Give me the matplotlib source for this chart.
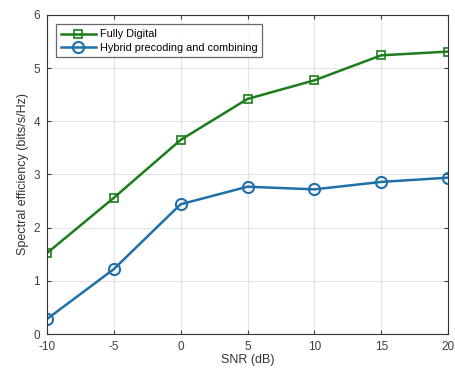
import matplotlib
matplotlib.use("Agg")
import matplotlib.pyplot as plt

snr = [-10, -5, 0, 5, 10, 15, 20]
fully_digital = [1.52, 2.56, 3.65, 4.42, 4.77, 5.24, 5.31]
hybrid = [0.28, 1.22, 2.44, 2.77, 2.72, 2.86, 2.94]
xticks = [-10, -5, 0, 5, 10, 15, 20]
yticks = [0, 1, 2, 3, 4, 5, 6]

plt.rcParams['font.family'] = ['Liberation Sans', 'DejaVu Sans']
plt.rcParams['axes.unicode_minus'] = False
fig = plt.figure(figsize=(4.55, 3.72), dpi=100)
ax = fig.add_axes([0.103, 0.102, 0.882, 0.858])

ax.plot(snr, fully_digital, color='#1b7d1b', lw=1.8, marker='s', ms=6,
        mfc='none', mec='#1b7d1b', mew=1.2, label='Fully Digital')
ax.plot(snr, hybrid, color='#1f6fa8', lw=1.8, marker='o', ms=8,
        mfc='none', mec='#1f6fa8', mew=1.5, label='Hybrid precoding and combining')

ax.set_xlim(-10, 20)
ax.set_ylim(0, 6)
ax.set_xticks(xticks)
ax.set_yticks(yticks)
ax.grid(True, color='#e3e3e3', lw=0.8)
ax.set_axisbelow(True)
ax.tick_params(direction='in', top=True, right=True, labelsize=8.5, colors='#404040', length=3)
ax.tick_params(axis='x', pad=5)
ax.tick_params(axis='y', pad=5)
for s in ax.spines.values():
    s.set_color('#333333')
    s.set_linewidth(0.8)
ax.set_xlabel('SNR (dB)', fontsize=9, color='#333333', labelpad=1)
ax.set_ylabel('Spectral efficiency (bits/s/Hz)', fontsize=9, color='#333333', labelpad=3)

leg = ax.legend(loc='upper left', fontsize=7.8, frameon=True, fancybox=False,
                edgecolor='#444444', borderpad=0.45, handlelength=3.3, handletextpad=0.3,
                bbox_to_anchor=(0.022, 0.97), borderaxespad=0.0, labelspacing=0.3)
leg.get_frame().set_linewidth(0.9)

fig.savefig('out.png', dpi=100)
